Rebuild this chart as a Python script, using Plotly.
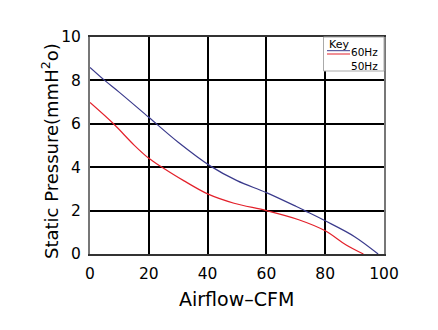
import plotly.graph_objects as go

# Data
x_60 = [0, 5, 10, 20, 30, 41, 50, 60, 70, 73, 80, 90, 98]
y_60 = [8.6, 8.0, 7.45, 6.3, 5.15, 4.05, 3.38, 2.83, 2.2, 2.0, 1.53, 0.8, 0.0]

x_50 = [0, 8, 15, 20, 24.5, 32, 40, 49, 60, 71, 80, 87, 93]
y_50 = [6.98, 6.0, 5.02, 4.41, 4.0, 3.37, 2.77, 2.34, 2.0, 1.58, 1.07, 0.43, 0.0]

x_ticks = [0, 20, 40, 60, 80, 100]
y_ticks = [0, 2, 4, 6, 8, 10]

BLUE = "#3a3a8c"
RED = "#e3202a"
FONT = "DejaVu Sans"

fig = go.Figure()
fig.add_trace(go.Scatter(x=x_60, y=y_60, mode="lines", name="60Hz",
                         line=dict(color=BLUE, width=1.2, shape="spline", smoothing=1.0)))
fig.add_trace(go.Scatter(x=x_50, y=y_50, mode="lines", name="50Hz",
                         line=dict(color=RED, width=1.2, shape="spline", smoothing=0.9)))

W, H = 438, 330
L, R, T, B = 90, 54, 37, 76
pw, ph = W - L - R, H - T - B

def px(xp):
    return (xp - L) / pw

def py(yp):
    return (H - B - yp) / ph

fig.update_layout(
    width=W, height=H,
    margin=dict(l=L, r=R, t=T, b=B),
    paper_bgcolor="white", plot_bgcolor="white",
    showlegend=False,
    font=dict(family=FONT, color="black"),
)
fig.update_xaxes(range=[0, 100], tickvals=x_ticks, ticktext=[str(v) for v in x_ticks],
                 showgrid=True, gridcolor="black", gridwidth=1.5,
                 showline=True, linecolor="#333333", linewidth=1.5, mirror=True,
                 ticks="", tickfont=dict(size=15.5, family=FONT), zeroline=False,
                 ticklabelstandoff=5)
fig.update_yaxes(range=[0, 10], tickvals=y_ticks, ticktext=[str(v) for v in y_ticks],
                 showgrid=True, gridcolor="black", gridwidth=1.5,
                 showline=True, linecolor="#777777", linewidth=2, mirror=True,
                 ticks="", tickfont=dict(size=15.5, family=FONT), zeroline=False,
                 ticklabelstandoff=4)

# Axis titles
fig.add_annotation(text="Airflow\u2013CFM", xref="paper", yref="paper",
                   x=px(236), y=py(298.5), showarrow=False,
                   font=dict(size=19, family=FONT, color="black"),
                   xanchor="center", yanchor="middle")
fig.add_annotation(text="Static Pressure(mmH<sup>2</sup>o)", xref="paper", yref="paper",
                   x=px(50), y=py(151), showarrow=False, textangle=-90,
                   font=dict(size=18, family=FONT, color="black"),
                   xanchor="center", yanchor="middle")

# Key box
fig.add_shape(type="rect", xref="paper", yref="paper",
              x0=px(323.5), x1=px(384), y0=py(71), y1=py(37),
              line=dict(color="#aaaaaa", width=1), fillcolor="white", layer="above")
fig.add_shape(type="line", xref="paper", yref="paper",
              x0=px(327), x1=px(350), y0=py(50.7), y1=py(50.7),
              line=dict(color=BLUE, width=1), layer="above")
fig.add_shape(type="line", xref="paper", yref="paper",
              x0=px(327), x1=px(350), y0=py(54), y1=py(54),
              line=dict(color=RED, width=1), layer="above")
fig.add_annotation(text="Key", xref="paper", yref="paper", x=px(327.5), y=py(44.5),
                   showarrow=False, xanchor="left", yanchor="middle", borderpad=0,
                   font=dict(size=11, family=FONT, color="black"))
fig.add_annotation(text="60Hz", xref="paper", yref="paper", x=px(350), y=py(52),
                   showarrow=False, xanchor="left", yanchor="middle", borderpad=0,
                   font=dict(size=10.5, family=FONT, color="black"))
fig.add_annotation(text="50Hz", xref="paper", yref="paper", x=px(350), y=py(65.7),
                   showarrow=False, xanchor="left", yanchor="middle", borderpad=0,
                   font=dict(size=10.5, family=FONT, color="black"))

fig.write_html("out.html")
